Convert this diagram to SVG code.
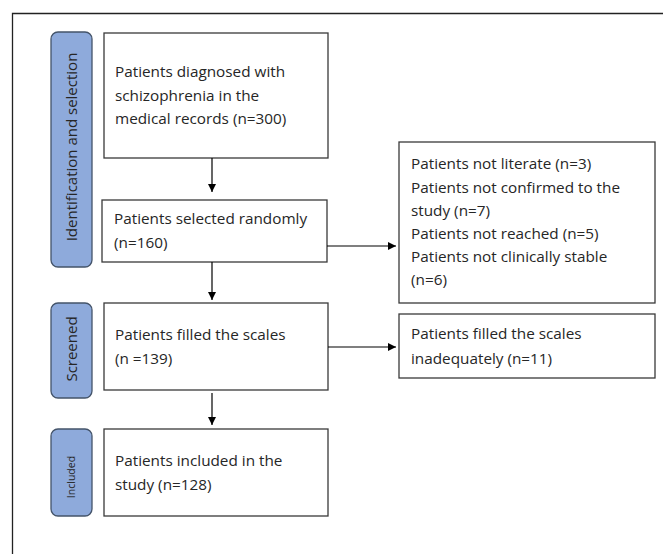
<svg xmlns="http://www.w3.org/2000/svg" width="663" height="554" viewBox="0 0 663 554">
<defs>
<marker id="ah" viewBox="0 0 10 10" refX="10" refY="5" markerWidth="8" markerHeight="8" markerUnits="userSpaceOnUse" orient="auto">
<path d="M0,0 L10,5 L0,10 Z" fill="#000"/>
</marker>
</defs>
<style>
.box{fill:#fff;stroke:#3a3a3a;stroke-width:1.3}
.bar{fill:#8eaadb;stroke:#44546a;stroke-width:1.3}
.t{font-family:"Open Sans","Noto Sans",sans-serif;font-size:15.3px;fill:#262626}
.v{font-family:"Open Sans","Noto Sans",sans-serif;font-size:15px;fill:#262626;text-anchor:middle}
.c{stroke:#000;stroke-width:1.2;fill:none;marker-end:url(#ah)}
</style>
<rect width="663" height="554" fill="#fff"/>
<path d="M12.5,554 V13.5 H663" fill="none" stroke="#222" stroke-width="1.3"/>
<g id="bar-identification">
<rect class="bar" x="51" y="32" width="41" height="235" rx="7"/>
<text class="v" transform="translate(77,147) rotate(-90)">Identification and selection</text>
</g>
<g id="bar-screened">
<rect class="bar" x="51" y="303" width="41" height="95" rx="7"/>
<text class="v" transform="translate(77,349) rotate(-90)">Screened</text>
</g>
<g id="bar-included">
<rect class="bar" x="51" y="429" width="41" height="87" rx="7"/>
<text class="v" style="font-size:10.5px" transform="translate(75,477) rotate(-90)">Included</text>
</g>
<g id="n1">
<rect class="box" x="104" y="33" width="224" height="125"/>
<text class="t" x="115" y="77">Patients diagnosed with</text>
<text class="t" x="115" y="100.5">schizophrenia in the</text>
<text class="t" x="115" y="124">medical records (n=300)</text>
</g>
<g id="n2">
<rect class="box" x="102" y="200" width="225" height="62"/>
<text class="t" x="114" y="224">Patients selected randomly</text>
<text class="t" x="114" y="247.5">(n=160)</text>
</g>
<g id="n3">
<rect class="box" x="399" y="142" width="256" height="161"/>
<text class="t" x="411" y="169">Patients not literate (n=3)</text>
<text class="t" x="411" y="192.5">Patients not confirmed to the</text>
<text class="t" x="411" y="215.5">study (n=7)</text>
<text class="t" x="411" y="239">Patients not reached (n=5)</text>
<text class="t" x="411" y="262">Patients not clinically stable</text>
<text class="t" x="411" y="285">(n=6)</text>
</g>
<g id="n4">
<rect class="box" x="104" y="303" width="224" height="87"/>
<text class="t" x="115" y="340">Patients filled the scales</text>
<text class="t" x="115" y="363.5">(n =139)</text>
</g>
<g id="n5">
<rect class="box" x="399" y="314" width="256" height="64"/>
<text class="t" x="411" y="339">Patients filled the scales</text>
<text class="t" x="411" y="364">inadequately (n=11)</text>
</g>
<g id="n6">
<rect class="box" x="104" y="429" width="224" height="87"/>
<text class="t" x="115" y="466">Patients included in the</text>
<text class="t" x="115" y="489.5">study (n=128)</text>
</g>
<g id="connectors">
<line class="c" x1="212" y1="158" x2="212" y2="192"/>
<line class="c" x1="212" y1="262" x2="212" y2="300"/>
<line class="c" x1="212" y1="393" x2="212" y2="425"/>
<line class="c" x1="327" y1="246" x2="396" y2="246"/>
<line class="c" x1="328" y1="347" x2="396" y2="347"/>
</g>
</svg>
